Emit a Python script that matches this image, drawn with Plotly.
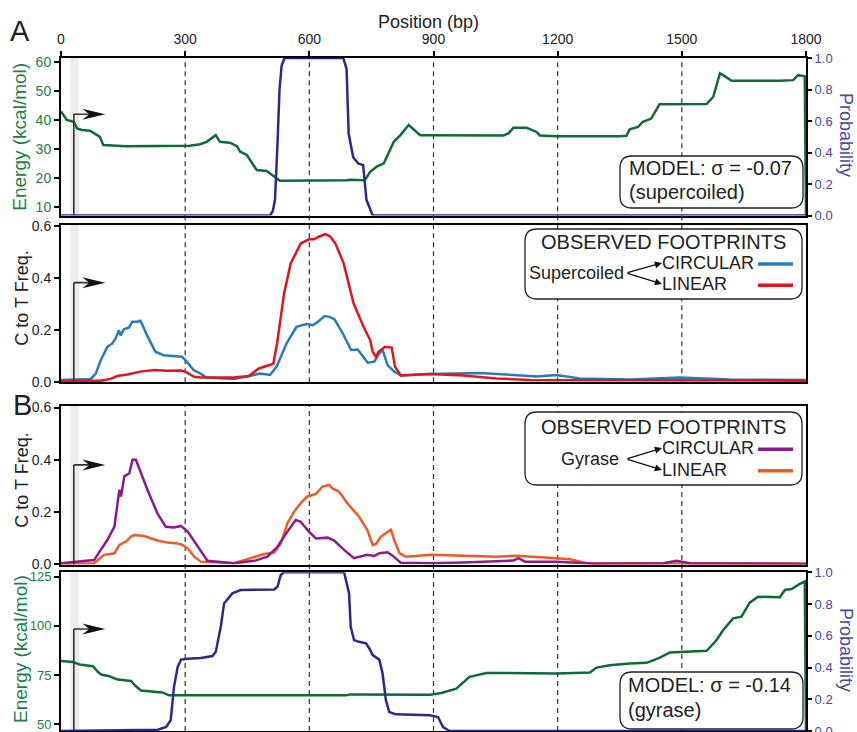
import plotly.graph_objects as go

# ---------------- data ----------------
x_ticks = [0, 300, 600, 900, 1200, 1500, 1800]
promoter_region = [22, 44]

# Panel A: model, sigma = -0.07 (supercoiled)
pos_E_sc = [0,14,31,39,50,70,94,102,134,158,311,336,352,368,374,384,408,425,433,449,465,473,497,521,529,
            690,698,734,747,763,780,804,820,840,868,892,1069,1081,1093,1125,1149,1157,1197,1350,1366,
            1374,1394,1406,1426,1446,1560,1576,1592,1600,1620,1737,1769,1781,1797,1800]
E_sc = [42.9,40.0,39.4,37.1,36.6,36.3,34.2,31.4,31.2,31.0,31.2,31.7,32.5,34.2,34.8,32.5,32.2,31.0,29.1,28.0,
        24.5,22.8,22.5,20.0,19.1,19.3,19.5,19.3,22.2,24.0,25.1,32.5,34.8,38.3,34.8,34.8,34.7,35.4,37.3,37.3,
        35.9,34.7,34.4,34.4,34.6,36.8,37.6,39.4,40.5,45.4,45.5,48.0,56.0,55.4,53.5,53.5,53.7,55.4,55.0,7.0]
pos_P_sc = [0,505,512,517,523,528,533,540,682,690,695,706,718,730,738,746,753,1800]
P_sc = [0,0,0.03,0.10,0.45,0.80,0.95,1.0,1.0,0.93,0.52,0.37,0.33,0.32,0.10,0.05,0,0]

# Panel A: observed footprints, supercoiled
pos_sc_circ = [0,72,84,96,112,124,132,140,144,152,164,172,184,192,208,228,248,272,292,304,320,336,352,417,449,
               481,505,521,545,569,593,609,621,637,649,661,681,701,717,733,741,757,769,777,789,805,821,890,
               1012,1093,1149,1197,1254,1374,1495,1616,1800]
f_sc_circ = [0.009,0.013,0.033,0.085,0.136,0.149,0.168,0.200,0.180,0.203,0.210,0.232,0.232,0.236,0.180,0.117,
             0.104,0.102,0.098,0.079,0.047,0.034,0.018,0.013,0.022,0.034,0.028,0.060,0.149,0.213,0.223,0.219,
             0.232,0.254,0.251,0.241,0.187,0.124,0.126,0.092,0.075,0.079,0.111,0.124,0.066,0.041,0.026,0.032,
             0.036,0.028,0.022,0.028,0.015,0.011,0.018,0.011,0.009]
pos_sc_lin = [0,96,120,136,160,192,225,257,290,302,322,338,418,454,478,499,513,522,539,555,579,599,611,623,639,
              651,663,683,707,731,747,753,761,767,783,799,807,821,890,972,1052,1133,1800]
f_sc_lin = [0.006,0.006,0.013,0.024,0.030,0.041,0.047,0.044,0.045,0.040,0.021,0.018,0.018,0.024,0.053,0.064,
            0.071,0.149,0.341,0.456,0.532,0.548,0.548,0.558,0.568,0.558,0.532,0.456,0.302,0.213,0.162,0.117,
            0.098,0.117,0.136,0.133,0.060,0.026,0.032,0.026,0.015,0.009,0.006]

# Panel B: observed footprints, gyrase
pos_gy_circ = [0,40,64,80,96,112,129,141,145,153,165,173,181,193,209,233,253,273,290,306,330,354,418,467,499,
               523,547,567,579,599,616,644,660,684,708,740,757,769,789,801,821,894,972,1093,1105,1121,1197,
               1294,1455,1487,1520,1800]
f_gy_circ = [0.003,0.009,0.012,0.015,0.054,0.092,0.143,0.284,0.259,0.336,0.348,0.400,0.400,0.348,0.284,0.194,
             0.143,0.140,0.146,0.124,0.066,0.012,0.003,0.012,0.028,0.066,0.124,0.169,0.162,0.124,0.098,0.101,
             0.090,0.054,0.022,0.035,0.031,0.041,0.045,0.032,0.005,0.003,0.006,0.013,0.022,0.009,0.009,0.001,
             0.003,0.012,0.003,0.001]
pos_gy_lin = [0,80,104,129,141,157,169,177,201,233,257,282,294,306,322,338,418,467,491,515,531,547,563,579,595,
              616,632,648,656,672,692,720,740,753,761,773,797,805,818,834,894,1052,1101,1197,1230,1270,1800]
f_gy_lin = [0.000,0.003,0.035,0.041,0.073,0.086,0.105,0.111,0.107,0.090,0.082,0.079,0.073,0.060,0.028,0.009,
            0.003,0.028,0.038,0.044,0.079,0.156,0.200,0.233,0.259,0.269,0.297,0.303,0.290,0.277,0.233,0.182,
            0.131,0.073,0.077,0.105,0.131,0.092,0.041,0.028,0.035,0.028,0.032,0.022,0.018,0.003,0.000]

# Panel B: model, sigma = -0.14 (gyrase)
pos_E_gy = [0,28,45,77,89,97,117,137,169,181,193,217,245,261,690,698,892,919,955,987,1028,1197,1278,1294,1326,
            1374,1415,1447,1471,1560,1584,1600,1624,1644,1664,1684,1737,1749,1765,1785,1797,1800]
E_gy = [82.1,81.7,80.4,79.5,76.7,75.3,74.4,72.7,72.0,69.3,67.2,66.9,66.2,64.7,64.7,65.2,65.0,65.9,68.1,74.1,
        76.1,75.8,76.3,78.8,80.0,80.9,81.2,83.9,86.5,87.3,92.8,97.9,103.8,104.7,111.8,114.8,114.5,118.2,118.7,
        121.3,122.5,46.0]
pos_P_gy = [0,234,254,265,273,282,290,306,338,366,374,386,394,402,414,434,515,523,531,539,684,696,700,708,720,
            737,745,753,769,777,785,793,809,891,911,923,939,1800]
P_gy = [0,0.008,0.025,0.068,0.278,0.404,0.450,0.455,0.460,0.472,0.500,0.657,0.804,0.829,0.867,0.888,0.892,0.909,
        0.983,1.0,1.0,0.867,0.657,0.573,0.562,0.552,0.520,0.478,0.450,0.362,0.194,0.120,0.105,0.099,0.088,0.025,
        0.0,0.0]

for a, b in [(pos_E_sc, E_sc), (pos_P_sc, P_sc), (pos_sc_circ, f_sc_circ), (pos_sc_lin, f_sc_lin),
             (pos_gy_circ, f_gy_circ), (pos_gy_lin, f_gy_lin), (pos_E_gy, E_gy), (pos_P_gy, P_gy)]:
    assert len(a) == len(b), (len(a), len(b))

# ---------------- style ----------------
FONT = "Liberation Sans, Arial, Helvetica, sans-serif"
GREEN = "#0e6b36"
GREEN_TXT = "#1c7f44"
INDIGO = "#2b2a8c"
INDIGO_TXT = "#4a48a5"
BLUE = "#2a7bb9"
RED = "#e3151c"
PURPLE = "#8c1a8c"
ORANGE = "#f15a22"
TXT = "#222222"

W, H = 857, 732
ML, MR, MT, MB = 61, 51, 58, 1
PW, PH = W - ML - MR, H - MT - MB


def X(px):
    return (px - ML) / PW


def Y(py):
    return 1 - (py - MT) / PH


d1 = [Y(215.5), 1.0]
d2 = [Y(382.3), Y(224.5)]
d3 = [Y(564.5), Y(405.7)]
d4 = [0.0, Y(572.3)]

r_E1 = [7.2, 61.3]
r_F2 = [0, 0.605]
r_F3 = [-0.002, 0.607]
r_E4 = [46.6, 127.2]

fig = go.Figure()


def line(x, y, color, xa, ya):
    fig.add_trace(go.Scatter(x=x, y=y, mode="lines", line=dict(color=color, width=2.5),
                             xaxis=xa, yaxis=ya, showlegend=False, hoverinfo="skip"))


line(pos_E_sc, E_sc, GREEN, "x", "y")
line(pos_P_sc, P_sc, INDIGO, "x", "y2")
line(pos_sc_circ, f_sc_circ, BLUE, "x2", "y3")
line(pos_sc_lin, f_sc_lin, RED, "x2", "y3")
line(pos_gy_lin, f_gy_lin, ORANGE, "x3", "y4")
line(pos_gy_circ, f_gy_circ, PURPLE, "x3", "y4")
line(pos_E_gy, E_gy, GREEN, "x4", "y5")
line(pos_P_gy, P_gy, INDIGO, "x4", "y6")

axline = dict(showline=True, linewidth=2, linecolor="black", mirror=True, showgrid=False,
              zeroline=False, layer="below traces", automargin=False)

xbase = dict(range=[0, 1800], domain=[0, 1], **axline)
layout = dict(
    xaxis=dict(anchor="y", side="top", tickvals=x_ticks, ticks="outside", ticklen=5, tickwidth=1.5,
               tickcolor="black", ticklabelstandoff=1, tickfont=dict(size=14, color=TXT), **xbase),
    xaxis2=dict(anchor="y3", matches="x", showticklabels=False, ticks="", **xbase),
    xaxis3=dict(anchor="y4", matches="x", showticklabels=False, ticks="", **xbase),
    xaxis4=dict(anchor="y5", matches="x", showticklabels=False, ticks="", **xbase),
)

yleft = dict(ticks="outside", ticklen=5, tickwidth=1.5, tickcolor="black", ticklabeloverflow="allow", **axline)
layout["yaxis"] = dict(domain=d1, anchor="x", range=r_E1, tickvals=[10, 20, 30, 40, 50, 60],
                       tickfont=dict(size=14, color=GREEN_TXT), **yleft)
layout["yaxis3"] = dict(domain=d2, anchor="x2", range=r_F2, tickvals=[0, 0.2, 0.4, 0.6], tickformat=".1f",
                        tickfont=dict(size=14, color=TXT), **yleft)
layout["yaxis4"] = dict(domain=d3, anchor="x3", range=r_F3, tickvals=[0, 0.2, 0.4, 0.6], tickformat=".1f",
                        tickfont=dict(size=14, color=TXT), **yleft)
layout["yaxis5"] = dict(domain=d4, anchor="x4", range=r_E4, tickvals=[50, 75, 100, 125],
                        tickfont=dict(size=13, color=GREEN_TXT), **yleft)
yright = dict(side="right", range=[0, 1], tickvals=[0, 0.2, 0.4, 0.6, 0.8, 1.0], tickformat=".1f",
              ticks="outside", ticklen=5, tickwidth=1.5, tickcolor="black", showline=False,
              showgrid=False, zeroline=False, tickfont=dict(size=13, color=INDIGO_TXT), automargin=False,
              ticklabeloverflow="allow")
layout["yaxis2"] = dict(overlaying="y", anchor="x", **yright)
layout["yaxis6"] = dict(overlaying="y5", anchor="x4", **yright)

shapes = []
# dashed guide lines
for xv in x_ticks[1:-1]:
    for (y0, y1) in [(d2[0], d1[1]), (d4[0], d3[1])]:
        shapes.append(dict(type="line", xref="x", yref="paper", x0=xv, x1=xv, y0=y0, y1=y1,
                           line=dict(color="#333333", width=1.2, dash="5px,4px"), layer="below"))

# promoter shading + arrows
panels = [("x", "y", r_E1, 42.0), ("x2", "y3", r_F2, 0.382), ("x3", "y4", r_F3, 0.38), ("x4", "y5", r_E4, 98.4)]
for xa, ya, rr, lvl in panels:
    shapes.append(dict(type="rect", xref=xa, yref=ya + " domain", x0=promoter_region[0], x1=promoter_region[1],
                       y0=0, y1=1, fillcolor="#ececec", line=dict(width=0), layer="below"))
    shapes.append(dict(type="line", xref=xa, yref=ya, x0=31, x1=31, y0=rr[0], y1=lvl,
                       line=dict(color="#333333", width=1.6)))
    shapes.append(dict(type="line", xref=xa, yref=ya, x0=31, x1=92, y0=lvl, y1=lvl,
                       line=dict(color="#333333", width=1.6)))
    shapes.append(dict(type="path", xref=xa, yref=ya, xsizemode="pixel", ysizemode="pixel",
                       xanchor=107, yanchor=lvl, path="M0,0 L-23,-5.5 L-16,0 L-23,5.5 Z",
                       fillcolor="#111111", line=dict(width=0)))


def rbox(x0, y0, x1, y1, r=12):
    a, b, t, btm = X(x0), X(x1), Y(y0), Y(y1)
    rx, ry = r / PW, r / PH
    p = (f"M{a+rx},{t} L{b-rx},{t} Q{b},{t} {b},{t-ry} L{b},{btm+ry} Q{b},{btm} {b-rx},{btm} "
         f"L{a+rx},{btm} Q{a},{btm} {a},{btm+ry} L{a},{t-ry} Q{a},{t} {a+rx},{t} Z")
    return dict(type="path", xref="paper", yref="paper", path=p, fillcolor="white",
                line=dict(color="#222222", width=1.3), layer="above")


shapes.append(rbox(620, 156, 803, 208))
shapes.append(rbox(620, 672, 803, 729))
shapes.append(rbox(525, 229, 802, 299))
shapes.append(rbox(525, 412, 802, 485))

# legend line samples
for py, col in [(264, BLUE), (285.3, RED), (449.3, PURPLE), (470.7, ORANGE)]:
    shapes.append(dict(type="line", xref="paper", yref="paper", x0=X(758), x1=X(793), y0=Y(py), y1=Y(py),
                       line=dict(color=col, width=3.5), layer="above"))

annotations = []


def txt(text, px, py, size, color=TXT, xanchor="center", angle=0):
    annotations.append(dict(text=text, x=X(px), y=Y(py), xref="paper", yref="paper", showarrow=False,
                            xanchor=xanchor, yanchor="middle", textangle=angle,
                            font=dict(family=FONT, size=size, color=color)))


txt("A", 20, 31, 29)
txt("B", 22, 405, 29)
txt("Position (bp)", 428.5, 22, 18)
txt("Energy (kcal/mol)", 20, 136.7, 19, GREEN_TXT, angle=-90)
txt("Energy (kcal/mol)", 20, 649, 19, GREEN_TXT, angle=-90)
txt("C to T Freq.", 21.7, 298, 18, angle=-90)
txt("C to T Freq.", 21.7, 480, 18, angle=-90)
txt("Probability", 846, 135, 18, INDIGO_TXT, angle=90)
txt("Probability", 846, 650, 18, INDIGO_TXT, angle=90)

txt("MODEL: σ = -0.07", 627, 168, 20, xanchor="left")
txt("(supercoiled)", 627, 192.5, 20, xanchor="left")
txt("MODEL: σ = -0.14", 626, 685, 20, xanchor="left")
txt("(gyrase)", 626, 709.5, 20, xanchor="left")

txt("OBSERVED FOOTPRINTS", 663.8, 242, 20)
txt("Supercoiled", 576.3, 273.3, 18)
txt("CIRCULAR", 660, 263.3, 18, xanchor="left")
txt("LINEAR", 660, 283.7, 18, xanchor="left")
txt("OBSERVED FOOTPRINTS", 663.8, 426.7, 20)
txt("Gyrase", 590, 459, 18)
txt("CIRCULAR", 660, 448.3, 18, xanchor="left")
txt("LINEAR", 660, 470, 18, xanchor="left")

for (tx, ty, sx, sy) in [(662, 263, 626, 273), (662, 284, 626, 273), (662, 448, 626, 459), (662, 470, 626, 459)]:
    annotations.append(dict(text="", x=X(tx), y=Y(ty), xref="paper", yref="paper", showarrow=True,
                            ax=sx - tx, ay=sy - ty, arrowhead=2, arrowsize=1.1, arrowwidth=1.3,
                            arrowcolor="#111111", standoff=0, startstandoff=0))

fig.update_layout(
    width=W, height=H, margin=dict(l=ML, r=MR, t=MT, b=MB, pad=0, autoexpand=False),
    paper_bgcolor="white", plot_bgcolor="rgba(0,0,0,0)", template="none",
    font=dict(family=FONT, size=14, color=TXT),
    shapes=shapes, annotations=annotations, showlegend=False,
    **layout,
)

fig.write_html("out.html")
